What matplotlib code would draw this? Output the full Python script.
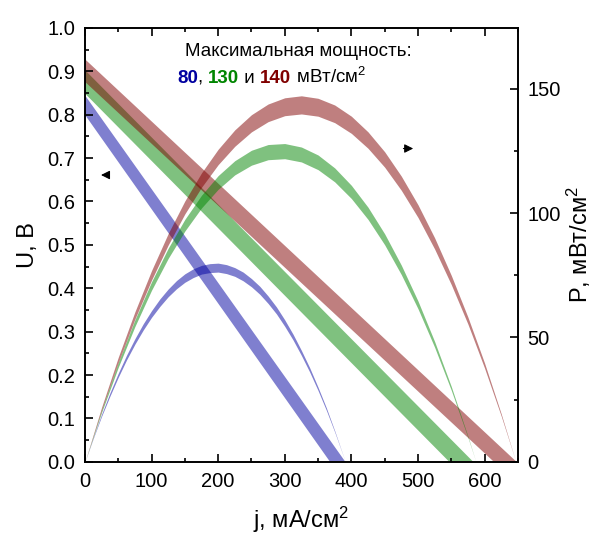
import matplotlib
matplotlib.use("Agg")
import matplotlib.pyplot as plt
from matplotlib.ticker import MultipleLocator

plt.rcParams['font.family'] = ['Liberation Sans', 'DejaVu Sans']
plt.rcParams['mathtext.fontset'] = 'custom'
plt.rcParams['mathtext.rm'] = 'Liberation Sans'
plt.rcParams['mathtext.it'] = 'Liberation Sans:italic'
plt.rcParams['mathtext.bf'] = 'Liberation Sans:bold'

# U-j bands: edges given by (j, U) end points
blue_u_top_j, blue_u_top = [0, 391], [0.845, 0.0]
blue_u_bot_j, blue_u_bot = [0, 368], [0.800, 0.0]
green_u_top_j, green_u_top = [0, 583], [0.903, 0.0]
green_u_bot_j, green_u_bot = [0, 547], [0.849, 0.0]
red_u_top_j, red_u_top = [0, 648], [0.928, 0.0]
red_u_bot_j, red_u_bot = [0, 614], [0.876, 0.0]

# P-j bands (upper / lower edge), mW/cm2
blue_p_j = [0, 12.5, 25, 37.5, 50, 62.5, 75, 87.5, 100, 112.5, 125, 137.5, 150, 162.5, 175, 187.5,
            200, 212.5, 225, 237.5, 250, 262.5, 275, 287.5, 300, 312.5, 325, 337.5, 350, 362.5,
            375, 391]
blue_p_top = [0, 9.8, 19.1, 27.7, 35.6, 42.9, 49.5, 55.5, 60.8, 65.5, 69.5, 72.9, 75.6, 77.6,
              79.0, 79.7, 79.9, 79.3, 78.1, 76.3, 73.7, 70.6, 66.7, 62.3, 57.1, 51.3, 44.8,
              37.8, 30.0, 21.7, 12.5, 0]
blue_p_bot = [0, 9.4, 18.3, 26.4, 34.0, 41.0, 47.3, 53.0, 58.1, 62.5, 66.4, 69.6, 72.2, 74.1,
              75.5, 76.1, 76.3, 75.7, 74.6, 72.8, 70.4, 67.4, 63.7, 59.5, 54.5, 49.0, 42.8,
              36.1, 28.7, 20.7, 12.0, 0]

green_p_j = [0, 25, 50, 75, 100, 125, 150, 175, 200, 225, 250, 275, 300, 325, 350, 375,
             400, 425, 450, 475, 500, 525, 550, 575, 587]
green_p_top = [0, 20.9, 39.9, 57.1, 72.4, 85.9, 97.5, 107.2, 115.1, 121.1, 125.3, 127.6, 128.0,
               126.6, 123.4, 118.2, 111.2, 102.4, 91.7, 79.1, 64.7, 48.4, 30.3, 10.3, 0]
green_p_bot = [0, 19.9, 38.0, 54.4, 69.0, 81.8, 92.8, 102.1, 109.6, 115.4, 119.3, 121.5, 121.9,
               120.6, 117.5, 112.6, 105.9, 97.5, 87.3, 75.3, 61.6, 46.1, 28.8, 9.8, 0]

red_p_j = [0, 25, 50, 75, 100, 125, 150, 175, 200, 225, 250, 275, 300, 325, 350, 375,
           400, 425, 450, 475, 500, 525, 550, 575, 600, 625, 647]
red_p_top = [0, 21.9, 42.0, 60.3, 76.9, 91.8, 104.9, 116.2, 125.7, 133.5, 139.6, 143.9, 146.4,
             147.2, 146.2, 143.5, 139.0, 132.7, 124.7, 114.9, 103.4, 90.1, 75.0, 58.2, 39.7, 19.3, 0]
red_p_bot = [0, 20.8, 39.9, 57.4, 73.1, 87.2, 99.7, 110.4, 119.5, 126.9, 132.7, 136.8, 139.2,
             139.9, 139.0, 136.4, 132.1, 126.1, 118.5, 109.2, 98.3, 85.6, 71.3, 55.4, 37.7, 18.4, 0]

blue = '#0000a0'
green = '#008500'
red = '#800000'

fig = plt.figure(figsize=(5.98, 5.37), dpi=100)
ax = fig.add_axes([0.142, 0.14, 0.724, 0.808])
ax2 = ax.twinx()


def band_u(a, jt, ut, jb, ub, col):
    a.fill(list(jt) + list(jb)[::-1], list(ut) + list(ub)[::-1],
           color=col, alpha=0.5, lw=0)


def band_p(a, j, top, bot, col):
    a.fill_between(j, bot, top, color=col, alpha=0.5, lw=0)


band_u(ax, blue_u_top_j, blue_u_top, blue_u_bot_j, blue_u_bot, blue)
band_u(ax, green_u_top_j, green_u_top, green_u_bot_j, green_u_bot, green)
band_u(ax, red_u_top_j, red_u_top, red_u_bot_j, red_u_bot, red)

band_p(ax2, blue_p_j, blue_p_top, blue_p_bot, blue)
band_p(ax2, green_p_j, green_p_top, green_p_bot, green)
band_p(ax2, red_p_j, red_p_top, red_p_bot, red)

ax.set_xlim(0, 650)
ax.set_ylim(0, 1.0)
ax2.set_ylim(0, 174.5)

ax.xaxis.set_major_locator(MultipleLocator(100))
ax.xaxis.set_minor_locator(MultipleLocator(50))
ax.yaxis.set_major_locator(MultipleLocator(0.1))
ax.yaxis.set_minor_locator(MultipleLocator(0.05))
ax.yaxis.set_major_formatter(plt.FormatStrFormatter('%.1f'))
ax2.yaxis.set_major_locator(MultipleLocator(50))
ax2.yaxis.set_minor_locator(MultipleLocator(25))

for a in (ax, ax2):
    for s in a.spines.values():
        s.set_linewidth(1.2)
ax.tick_params(which='both', direction='in', top=True, right=False, width=1.2, labelsize=14.5)
ax.tick_params(which='major', length=6, pad=7)
ax.tick_params(which='minor', length=3)
ax2.tick_params(which='both', direction='in', width=1.2, labelsize=14.5)
ax2.tick_params(which='major', length=6, pad=7)
ax2.tick_params(which='minor', length=3)

ax.set_xlabel('j, мА/см$^2$', fontsize=17, labelpad=10)
ax.set_ylabel('U, В', fontsize=17, labelpad=6)
ax2.set_ylabel('P, мВт/см$^2$', fontsize=17, labelpad=3)

# small arrows pointing at the axis each family belongs to
ax.annotate('', xy=(20, 0.661), xytext=(40, 0.661),
            arrowprops=dict(arrowstyle='-|>', color='black', lw=0.8, mutation_scale=13))
ax2.annotate('', xy=(497, 126), xytext=(474, 126),
             arrowprops=dict(arrowstyle='-|>', color='black', lw=0.8, mutation_scale=13))

ax.text(0.492, 0.945, 'Максимальная мощность:', transform=ax.transAxes,
        ha='center', va='center', fontsize=13.5)
t = ax.text(0.2125, 0.884, '80', transform=ax.transAxes, color=blue,
            fontweight='bold', fontsize=13.5, va='center')
parts = [(', ', 'black', 'normal'), ('130', green, 'bold'), (' и ', 'black', 'normal'),
         ('140', red, 'bold'), (' мВт/см$^2$', 'black', 'normal')]
for txt, col, fw in parts:
    t = ax.annotate(txt, xy=(1, 0), xycoords=t, va='bottom', ha='left',
                    color=col, fontweight=fw, fontsize=13.5)

fig.savefig('out.png', dpi=100)
